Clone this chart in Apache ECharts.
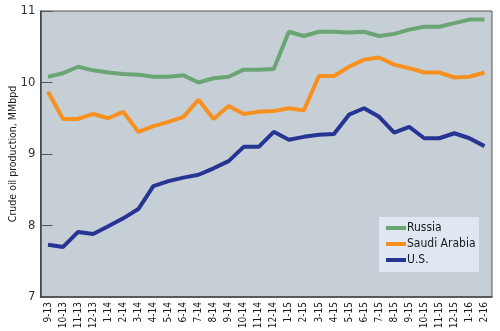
<!DOCTYPE html>
<html><head><meta charset="utf-8">
<script src="https://cdn.jsdelivr.net/npm/echarts@6/dist/echarts.min.js"></script>
<style>html,body{margin:0;padding:0;background:#fff}#c{width:500px;height:331px}</style>
</head><body><div id="c"></div>
<script>
const categories = ['9-13','10-13','11-13','12-13','1-14','2-14','3-14','4-14','5-14','6-14','7-14','8-14','9-14','10-14','11-14','12-14','1-15','2-15','3-15','4-15','5-15','6-15','7-15','8-15','9-15','10-15','11-15','12-15','1-16','2-16'];
const russia = [10.08,10.13,10.22,10.17,10.14,10.12,10.11,10.08,10.08,10.10,10.00,10.06,10.08,10.18,10.18,10.19,10.71,10.65,10.71,10.71,10.70,10.71,10.65,10.68,10.74,10.78,10.78,10.83,10.88,10.88];
const saudi = [9.87,9.49,9.49,9.56,9.50,9.59,9.31,9.39,9.45,9.52,9.76,9.49,9.67,9.56,9.59,9.60,9.64,9.61,10.09,10.09,10.22,10.32,10.35,10.25,10.20,10.14,10.14,10.07,10.08,10.14];
const us = [7.73,7.70,7.91,7.88,7.99,8.10,8.23,8.55,8.62,8.67,8.71,8.80,8.90,9.10,9.10,9.31,9.20,9.24,9.27,9.28,9.55,9.64,9.52,9.30,9.38,9.22,9.22,9.29,9.22,9.11];
const yTicks = [7,8,9,10,11];

const font = '"DejaVu Sans Condensed",sans-serif';
const chart = echarts.init(document.getElementById('c'));
const mk = (name, data, color) => ({
  name, type: 'line', data, symbol: 'none', smooth: false,
  lineStyle: {width: 4, color}, itemStyle: {color}
});
chart.setOption({
  animation: false,
  grid: {left: 40.5, right: 8, top: 11, bottom: 34, show: true, outerBoundsMode: 'none', containLabel: false,
    backgroundColor: '#c6cfd6', borderColor: '#555', borderWidth: 1},
  graphic: [{type: 'rect', left: 379, top: 217, shape: {width: 100, height: 55}, style: {fill: '#dfe8f2'}, z: 5}],
  legend: {
    orient: 'vertical', left: 386, top: 222, z: 10,
    padding: 0, itemGap: 4,
    itemWidth: 20, itemHeight: 4, icon: 'rect',
    textStyle: {fontFamily: font, fontSize: 12, color: '#1a1a1a', padding: [0,0,0,-4]},
    data: ['Russia', 'Saudi Arabia', 'U.S.']
  },
  xAxis: {
    type: 'category', data: categories, boundaryGap: true,
    axisLine: {lineStyle: {color: '#444', width: 1.5}},
    axisTick: {inside: true, length: 8, lineStyle: {color: '#444'}},
    axisLabel: {rotate: 90, fontFamily: font, fontSize: 10, color: '#1a1a1a', margin: 5, interval: 0}
  },
  yAxis: {
    type: 'value', min: 7, max: 11, interval: 1,
    name: 'Crude oil production, MMbpd', nameLocation: 'middle', nameGap: 22, nameMoveOverlap: false,
    nameTextStyle: {fontFamily: font, fontSize: 10.5, color: '#1a1a1a'},
    axisLine: {show: true, lineStyle: {color: '#444', width: 1.5}},
    axisTick: {show: true, inside: true, length: 12, lineStyle: {color: '#555'}},
    splitLine: {show: false},
    axisLabel: {fontFamily: font, fontSize: 13, color: '#333', margin: 5,
      formatter: v => yTicks.includes(v) ? String(v) : ''}
  },
  series: [mk('Russia', russia, '#6aa573'), mk('Saudi Arabia', saudi, '#f7901e'), mk('U.S.', us, '#263594')]
});
</script></body></html>
